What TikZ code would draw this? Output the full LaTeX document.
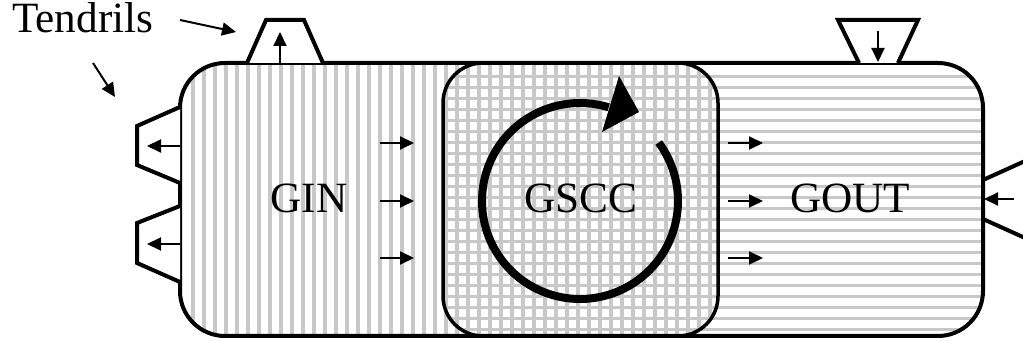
\documentclass[tikz,border=0pt]{standalone}
\usepackage{fontspec}
\setmainfont{Liberation Serif}
\usetikzlibrary{arrows.meta}
\tikzset{
  stripe/.style={draw={rgb,255:red,200;green,200;blue,200}, line width=1.65pt},
  outline/.style={line width=2pt, rounded corners=22.5pt},
  coreline/.style={line width=1.75pt, rounded corners=20pt},
  tendril/.style={draw, line width=2pt, fill=white, line join=miter},
  flow/.style={line width=1pt, -{Triangle[length=7pt,width=6.5pt]}},
  lab/.style={font=\fontsize{21.6pt}{26pt}\selectfont, inner sep=0pt, anchor=base},
}
\begin{document}
\begin{tikzpicture}[x=0.5pt, y=-0.5pt]
\useasboundingbox (0,0) rectangle (1023,341);
\clip (0,0) rectangle (1023,341);
% vertical stripes (GIN side + GSCC)
\begin{scope}
  \clip[rounded corners=22.5pt] (180,63) rectangle (983,336);
  \clip (180,0) rectangle (580,341);
  \foreach \i in {0,...,40} \draw[stripe] (193+11*\i,55) -- ++(0,290);
\end{scope}
\begin{scope}
  \clip[rounded corners=20pt] (443,63) rectangle (718,336);
  \foreach \i in {0,...,50} \draw[stripe] (193+11*\i,55) -- ++(0,290);
\end{scope}
% horizontal stripes (GOUT side + GSCC)
\begin{scope}
  \clip[rounded corners=22.5pt] (180,63) rectangle (983,336);
  \clip (580,0) rectangle (1000,341);
  \foreach \i in {0,...,25} \draw[stripe] (430,76.5+11*\i) -- ++(570,0);
\end{scope}
\begin{scope}
  \clip[rounded corners=20pt] (443,63) rectangle (718,336);
  \foreach \i in {0,...,25} \draw[stripe] (430,76.5+11*\i) -- ++(570,0);
\end{scope}
% outlines
\draw[coreline] (443,63) rectangle (718,336);
\draw[outline] (180,63) rectangle (983,336);
% tendrils
\draw[tendril] (247,63) -- (266,20) -- (304,20) -- (323,63);
\draw[tendril] (859,63) -- (838,20) -- (918,20) -- (898,63);
\draw[tendril] (180,107) -- (137,126) -- (137,165) -- (180,183);
\draw[tendril] (180,206) -- (137,223) -- (137,263) -- (180,282);
\draw[tendril] (1045,152) -- (983,180) -- (983,219) -- (1045,247);
\coordinate (t1a) at (280,63);  \coordinate (t1b) at (280,32);
\coordinate (t2a) at (878,31);  \coordinate (t2b) at (878,62);
\coordinate (t3a) at (180,146); \coordinate (t3b) at (147,146);
\coordinate (t4a) at (180,244); \coordinate (t4b) at (147,244);
\coordinate (t5a) at (1014,199); \coordinate (t5b) at (984,199);
\draw[flow] (t1a) -- (t1b);
\draw[flow] (t2a) -- (t2b);
\draw[flow] (t3a) -- (t3b);
\draw[flow] (t4a) -- (t4b);
\draw[flow] (t5a) -- (t5b);
% labels
\node[lab] (gin) at (309,213) {GIN};
\node[lab] (gscc) at (581,213) {GSCC};
\node[lab] (gout) at (850,213) {GOUT};
\node[lab, anchor=base west] (tend) at (12,33) {Tendrils};
% pointer arrows from Tendrils
\coordinate (p1) at (180,20); \coordinate (q1) at (236,32);
\coordinate (p2) at (93,63);  \coordinate (q2) at (115,97);
\draw[flow] (p1) -- (q1);
\draw[flow] (p2) -- (q2);
% flow arrows
\foreach \y in {143,201,258} {
  \draw[flow] (380,\y) -- (414,\y);
  \draw[flow] (728,\y) -- (763,\y);
}
% rotation circle
\coordinate (cc) at (580,201);
\draw[line width=4pt] (cc) ++(-36.6:98) arc[start angle=-36.6, end angle=287, radius=98];
\fill (619,76) -- (639,112) -- (602,132) -- cycle;
\end{tikzpicture}
\end{document}
